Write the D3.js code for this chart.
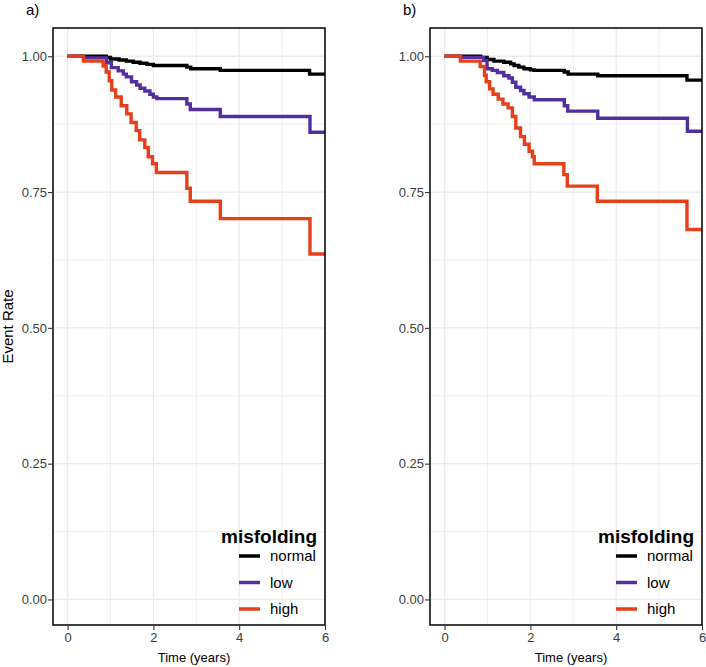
<html><head>
  <script src="https://d3js.org/d3.v7.min.js"></script>
  <style>
    body { margin: 0; background: #fff; }
    text { font-family: 'Liberation Sans', Arial, sans-serif; }
  </style>
</head>
<body>
  <script>
    // Data (time in years, event rate after each step)
    const groups = ["normal", "low", "high"]
    const groupColors = ["#000000", "#522e9e", "#e6401a"]
    const timeTicks = [0, 2, 4, 6]
    const timeMinor = [1, 3, 5]
    const rateTicks = [0, 0.25, 0.5, 0.75, 1]
    const rateMinor = [0.125, 0.375, 0.625, 0.875]
    const panelLabels = ["a)", "b)"]

    const normalA = [[0,1],[0.9,0.998],[1.0,0.995],[1.2,0.993],[1.37,0.991],[1.53,0.989],[1.69,0.987],[1.85,0.985],[2.0,0.983],[2.78,0.980],[2.87,0.977],[3.56,0.974],[5.64,0.967],[6,0.967]]
    const lowA = [[0,1],[0.37,0.997],[0.91,0.988],[1.02,0.979],[1.18,0.973],[1.30,0.967],[1.37,0.962],[1.49,0.953],[1.61,0.947],[1.69,0.941],[1.80,0.936],[1.92,0.930],[2.0,0.925],[2.08,0.922],[2.78,0.912],[2.86,0.902],[3.56,0.889],[5.65,0.860],[6,0.860]]
    const highA = [[0,1],[0.37,0.991],[0.83,0.982],[0.9,0.971],[0.97,0.955],[1.03,0.938],[1.12,0.925],[1.25,0.909],[1.38,0.894],[1.48,0.878],[1.6,0.863],[1.68,0.846],[1.8,0.832],[1.88,0.815],[1.98,0.802],[2.07,0.786],[2.78,0.757],[2.86,0.733],[3.56,0.701],[5.65,0.636],[6,0.636]]

    const normalB = [[0,1],[0.84,0.998],[0.99,0.994],[1.15,0.991],[1.38,0.989],[1.54,0.986],[1.62,0.983],[1.73,0.980],[1.85,0.977],[2.0,0.975],[2.09,0.974],[2.79,0.971],[2.88,0.967],[3.57,0.964],[5.65,0.956],[6,0.956]]
    const lowB = [[0,1],[0.37,0.998],[0.91,0.992],[0.99,0.977],[1.11,0.974],[1.23,0.970],[1.38,0.964],[1.5,0.960],[1.58,0.952],[1.66,0.943],[1.77,0.937],[1.85,0.931],[1.97,0.925],[2.09,0.920],[2.79,0.909],[2.87,0.899],[3.57,0.886],[5.66,0.862],[6,0.862]]
    const highB = [[0,1],[0.37,0.991],[0.83,0.981],[0.93,0.965],[0.97,0.953],[1.05,0.940],[1.13,0.930],[1.25,0.921],[1.36,0.912],[1.48,0.905],[1.58,0.889],[1.66,0.868],[1.77,0.852],[1.86,0.838],[1.97,0.825],[2.05,0.815],[2.09,0.802],[2.78,0.782],[2.86,0.761],[3.56,0.733],[5.65,0.681],[6,0.681]]

    const panels = [
      {left: 53, series: [normalA, lowA, highA], yTitle: true},
      {left: 430, series: [normalB, lowB, highB], yTitle: false}
    ]

    const svg = d3.select("body").append("svg")
                  .attr("width", 706)
                  .attr("height", 667)

    const plotW = 272, plotTop = 28, plotBottom = 625

    panels.forEach((p, i) => {
      const x = d3.scaleLinear().domain([-0.34, 6]).range([p.left, p.left + plotW])
      const y = d3.scaleLinear().domain([-0.047, 1.052]).range([plotBottom, plotTop])
      const g = svg.append("g")

      // grid
      g.append("g").selectAll("line").data(timeMinor).join("line")
        .attr("x1", d => x(d)).attr("x2", d => x(d))
        .attr("y1", plotTop).attr("y2", plotBottom)
        .attr("stroke", "#f0f0f0").attr("stroke-width", 1)
      g.append("g").selectAll("line").data(rateMinor).join("line")
        .attr("y1", d => y(d)).attr("y2", d => y(d))
        .attr("x1", p.left).attr("x2", p.left + plotW)
        .attr("stroke", "#f0f0f0").attr("stroke-width", 1)
      g.append("g").selectAll("line").data(timeTicks).join("line")
        .attr("x1", d => x(d)).attr("x2", d => x(d))
        .attr("y1", plotTop).attr("y2", plotBottom)
        .attr("stroke", "#ebebeb").attr("stroke-width", 1.3)
      g.append("g").selectAll("line").data(rateTicks).join("line")
        .attr("y1", d => y(d)).attr("y2", d => y(d))
        .attr("x1", p.left).attr("x2", p.left + plotW)
        .attr("stroke", "#ebebeb").attr("stroke-width", 1.3)

      // curves
      const line = d3.line().curve(d3.curveStepAfter)
                     .x(d => x(d[0])).y(d => y(d[1]))
      p.series.forEach((s, k) => {
        g.append("path").datum(s)
          .attr("d", line)
          .attr("fill", "none")
          .attr("stroke", groupColors[k])
          .attr("stroke-width", 3.4)
      })

      // border
      g.append("rect")
        .attr("x", p.left).attr("y", plotTop)
        .attr("width", plotW).attr("height", plotBottom - plotTop)
        .attr("fill", "none").attr("stroke", "#000").attr("stroke-width", 1.5)

      // axes
      const xAxis = g.append("g").attr("transform", `translate(0,${plotBottom})`)
        .call(d3.axisBottom(x).tickValues(timeTicks).tickFormat(d3.format("d")).tickSize(5).tickPadding(3))
      const yAxis = g.append("g").attr("transform", `translate(${p.left},0)`)
        .call(d3.axisLeft(y).tickValues(rateTicks).tickFormat(d3.format(".2f")).tickSize(5).tickPadding(1))
      ;[xAxis, yAxis].forEach(a => {
        a.select(".domain").remove()
        a.selectAll(".tick line").attr("stroke", "#333").attr("stroke-width", 1.1)
        a.selectAll(".tick text").attr("fill", "#3d3d3d")
          .style("font-size", "13px").style("font-family", "'Liberation Sans', Arial, sans-serif")
      })

      g.append("text")
        .attr("x", p.left + plotW / 2 + 5).attr("y", 662)
        .attr("text-anchor", "middle")
        .style("font-size", "13px")
        .text("Time (years)")

      if (p.yTitle) {
        g.append("text")
          .attr("transform", `translate(13,${(plotTop + plotBottom) / 2}) rotate(-90)`)
          .attr("text-anchor", "middle")
          .style("font-size", "15px")
          .text("Event Rate")
      }

      g.append("text")
        .attr("x", p.left - 27).attr("y", 15)
        .style("font-size", "15px")
        .text(panelLabels[i])

      // legend
      const lg = g.append("g").attr("transform", `translate(${p.left + 186},0)`)
      lg.append("text")
        .attr("x", -18).attr("y", 543)
        .style("font-size", "19px").style("font-weight", "bold")
        .text("misfolding")
      groups.forEach((name, k) => {
        const cy = 556 + k * 26.5
        lg.append("line")
          .attr("x1", 0).attr("x2", 21)
          .attr("y1", cy).attr("y2", cy)
          .attr("stroke", groupColors[k]).attr("stroke-width", 3.5)
        lg.append("text")
          .attr("x", 31).attr("y", cy + 5)
          .style("font-size", "15px")
          .text(name)
      })
    })
  </script>
</body></html>
